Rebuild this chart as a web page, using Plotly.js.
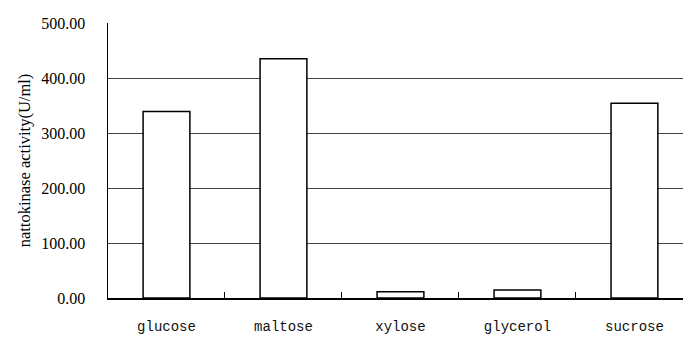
<!DOCTYPE html>
<html><head><meta charset="utf-8">
<script src="https://cdn.plot.ly/plotly-3.0.1.min.js"></script>
<style>body{margin:0;background:#fff}</style>
</head><body><div id="chart" style="width:683px;height:337px"></div>
<script>
const categories = ["glucose", "maltose", "xylose", "glycerol", "sucrose"];
const activity = [339, 435, 11.5, 14.5, 354];
const yTicks = [0, 100, 200, 300, 400, 500];

const serif = "'Liberation Serif', 'Times New Roman', serif";
const mono = "'Liberation Mono', 'DejaVu Sans Mono', monospace";

Plotly.newPlot("chart", [{
  type: "bar",
  x: categories,
  y: activity,
  width: 0.4,
  marker: {color: "#ffffff", line: {color: "#000000", width: 1.5}},
  hoverinfo: "skip"
}], {
  width: 683, height: 337,
  margin: {l: 108, r: 0, t: 23, b: 39},
  paper_bgcolor: "#fff", plot_bgcolor: "#fff",
  showlegend: false,
  xaxis: {
    type: "category",
    range: [-0.5, 4.415],
    showline: true, linecolor: "#000", linewidth: 1.5,
    ticks: "inside", tickson: "boundaries", ticklen: 6, tickcolor: "#000", tickwidth: 1,
    showgrid: false,
    tickfont: {family: mono, size: 14, color: "#111"},
    ticklabelstandoff: 15
  },
  yaxis: {
    range: [0, 500],
    tickvals: yTicks,
    tickformat: ".2f",
    showline: true, linecolor: "#000", linewidth: 1.5,
    showgrid: true, gridcolor: "#444", gridwidth: 1,
    zeroline: false,
    ticks: "",
    ticklabelstandoff: 18,
    tickfont: {family: serif, size: 16, color: "#000"},
    title: {text: "nattokinase activity(U/ml)", font: {family: serif, size: 16.5, color: "#000"}, standoff: 6}
  }
}, {staticPlot: true});
</script></body></html>
